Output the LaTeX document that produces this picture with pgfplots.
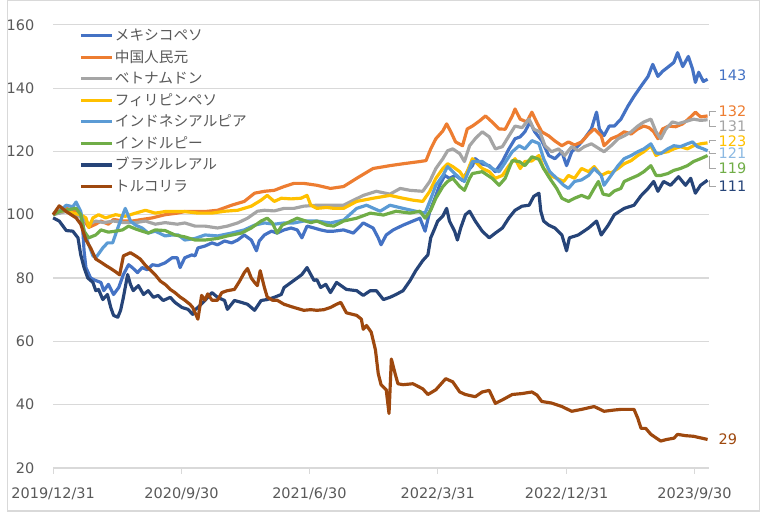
\documentclass[border=0pt]{standalone}
\usepackage{pgfplots}
\pgfplotsset{compat=1.18}
\usepackage{fontspec}
\setmainfont{DejaVu Sans}
\newfontfamily\jp{Noto Sans CJK JP}
\definecolor{cMX}{HTML}{4472C4}
\definecolor{cCN}{HTML}{ED7D31}
\definecolor{cVN}{HTML}{A5A5A5}
\definecolor{cPH}{HTML}{FFC000}
\definecolor{cID}{HTML}{5B9BD5}
\definecolor{cIN}{HTML}{70AD47}
\definecolor{cBR}{HTML}{264478}
\definecolor{cTR}{HTML}{9E480E}
\definecolor{gridc}{HTML}{D9D9D9}
\definecolor{txt}{HTML}{595959}
\definecolor{lead}{HTML}{A6A6A6}
\begin{document}
\begin{tikzpicture}
\draw[gridc, line width=0.6pt] (0.3pt,0.3pt) rectangle (379.7pt,257.7pt);
\begin{axis}[
  at={(23.5pt,22pt)}, anchor=south west,
  scale only axis, width=331pt, height=223.5pt,
  xmin=0, xmax=1401, ymin=20, ymax=160,
  clip=false,
  axis x line*=bottom, axis y line*=left,
  y axis line style={draw=none},
  x axis line style={draw=gridc, line width=0.6pt},
  ymajorgrids, grid style={gridc, line width=0.6pt},
  ytick={20,40,...,160},
  xtick={0,274,547,821,1096,1369},
  xticklabels={2019/12/31,2020/9/30,2021/6/30,2022/3/31,2022/12/31,2023/9/30},
  tick align=outside,
  ytick style={draw=none},
  xtick style={draw=gridc, line width=0.6pt},
  major tick length=3pt,
  /pgf/number format/assume math mode=true,
  ticklabel style={font=\fontsize{7.3}{8}\selectfont, text=txt},
  yticklabel style={xshift=-3pt},
  xticklabel style={yshift=-3.5pt},
  every axis plot/.append style={line width=1.6pt, line join=round, mark=none},
  legend cell align=left,
  legend style={at={(0.03,1.003)}, anchor=north west, draw=none, fill=none,
    font=\jp\fontsize{7.4}{7.4}\selectfont, text=txt,
    nodes={inner sep=0.4pt, text height=6.2pt, text depth=1.1pt},
    row sep=2.75pt},
  legend image code/.code={\draw[#1, line width=1.6pt] (0pt,0pt) -- (16pt,0pt);},
]
% Mexican peso
\addplot[cMX] coordinates {(0,100) (6,101) (13,100.5) (28,102) (42,101) (49,102) (59,100) (63,96) (66,88.6) (70,83.3) (80,80) (91,79.2) (102,78.6) (108,76) (118,78) (129,74.8) (140,77) (150,81.1) (161,84.2) (169,83.3) (180,81.7) (190,83.3) (201,82.6) (212,84.2) (224,83.9) (239,84.8) (254,86.4) (265,86.4) (271,83.3) (281,86.4) (296,87.3) (303,87) (309,89.5) (324,90.1) (339,91.1) (351,90.5) (366,91.7) (381,91.1) (394,92) (408,93.6) (423,92) (434,88.6) (440,91.7) (451,93.6) (466,94.8) (478,94.2) (493,95.2) (508,95.8) (521,95.2) (531,92.7) (542,96.4) (557,95.8) (571,95.2) (584,94.8) (599,94.8) (620,95.2) (641,94.2) (662,97.4) (683,95.8) (694,92.7) (700,90.5) (711,93.6) (726,95.2) (747,96.7) (768,98) (783,98.9) (794,94.8) (804,101.1) (815,105.2) (825,109.3) (836,112.4) (846,111.5) (859,112.4) (874,110.8) (884,113.6) (895,115.5) (901,117.7) (916,116) (931,115.5) (944,113.6) (959,116.8) (973,120.8) (986,124) (997,124.6) (1007,126.2) (1018,129.3) (1028,126.2) (1043,123.4) (1058,118.7) (1071,117.7) (1086,119.9) (1096,115.5) (1107,119.9) (1121,121.8) (1134,124) (1149,127.1) (1160,132.4) (1166,127.1) (1176,125) (1187,128) (1198,128) (1212,130.2) (1227,134.3) (1240,137.4) (1255,140.6) (1270,143.7) (1280,147.5) (1291,143.7) (1301,145.3) (1314,146.8) (1325,148.1) (1333,151.2) (1344,146.8) (1356,150) (1365,146) (1371,141.8) (1378,145) (1388,142.1) (1397,142.8)};
\addlegendentry{メキシコペソ}
% Chinese yuan
\addplot[cCN] coordinates {(0,100) (13,101) (28,102) (49,101) (63,99) (76,96) (91,97) (102,98) (118,97) (129,98.5) (150,98) (169,98) (190,98.5) (212,99) (239,100) (265,100.5) (281,101) (303,101) (324,101) (351,101.4) (381,103) (408,104.2) (430,106.8) (451,107.4) (472,107.7) (493,108.9) (514,109.9) (535,109.9) (563,109.3) (592,108.3) (620,108.9) (648,111.5) (683,114.6) (719,115.5) (747,116.1) (783,116.8) (796,117.1) (806,120.8) (817,124) (832,126.5) (840,128.7) (849,126.2) (859,123) (874,121.8) (884,127.1) (895,128) (910,129.6) (923,131.2) (937,129.3) (952,127.1) (965,127) (980,131.2) (986,133.4) (997,130.2) (1011,129.3) (1022,132.4) (1033,129) (1043,126.2) (1058,124.9) (1071,123.3) (1086,121.8) (1100,123) (1113,122) (1128,123) (1143,125.5) (1155,127.1) (1170,124.9) (1176,121.8) (1191,124) (1206,124.9) (1219,126.2) (1234,125.5) (1248,127.1) (1261,128) (1272,127.5) (1282,126.2) (1291,124) (1301,127.1) (1314,128) (1329,127.8) (1344,128.7) (1356,130.2) (1371,132.4) (1382,130.9) (1397,131.2)};
\addlegendentry{中国人民元}
% Vietnamese dong
\addplot[cVN] coordinates {(0,100) (13,100.5) (28,101) (49,100) (63,99) (76,97) (91,98) (108,97.5) (129,98) (150,97.5) (176,97.5) (197,98) (218,97) (239,97.5) (265,97) (281,97.4) (303,96.4) (324,96.4) (351,95.8) (372,96.4) (394,97.4) (415,98.9) (436,101.1) (451,101.4) (472,101.2) (493,102) (514,102) (535,102.7) (563,103) (592,103) (620,103) (662,106.1) (690,107.4) (719,106.5) (741,108.3) (762,107.7) (789,107.4) (804,110.5) (817,114.6) (832,117.7) (842,120.2) (853,120.8) (868,119.3) (878,116.8) (889,121.8) (901,124) (916,126.2) (931,124.6) (944,120.8) (959,121.5) (973,124.9) (986,128) (1001,127.5) (1016,130.2) (1026,127) (1039,126.2) (1050,121.8) (1064,119.9) (1079,120.8) (1092,118.7) (1107,121.5) (1121,120.2) (1134,121.5) (1149,122.4) (1164,121) (1176,119.9) (1191,121.8) (1206,124) (1219,124.9) (1234,126.2) (1248,128) (1261,129.3) (1276,130.2) (1287,126.2) (1297,124) (1308,127.1) (1322,129.3) (1335,128.8) (1354,129.6) (1367,130.2) (1382,129.8) (1397,130)};
\addlegendentry{ベトナムドン}
% Philippine peso
\addplot[cPH] coordinates {(0,100) (13,101) (28,101.5) (42,100.5) (59,100) (70,99) (76,96) (85,99) (97,100) (112,99) (133,100) (154,99.5) (176,100.5) (197,101.4) (218,100.5) (239,101) (260,101) (281,101) (309,100.5) (339,100.5) (366,101.1) (394,101.4) (423,102.7) (444,104.6) (457,106.1) (472,104.2) (487,105.2) (508,105) (529,105.2) (542,106.1) (550,103) (563,102) (584,102.3) (599,102) (620,102) (648,104.2) (683,105.2) (719,106.1) (747,105.2) (768,104.6) (789,104.2) (804,107.4) (817,111.5) (832,114.6) (842,116.1) (853,115.2) (868,113.6) (878,111.5) (889,115.5) (895,117.7) (916,114.6) (931,113.6) (944,111.5) (959,112.4) (973,115.5) (986,117.7) (997,114.6) (1007,116.8) (1022,117) (1037,118.7) (1047,114.6) (1060,112.4) (1075,111.5) (1090,110.5) (1100,112.4) (1113,111.5) (1128,114.6) (1143,113.6) (1155,115.2) (1170,112.4) (1185,113.5) (1191,113.2) (1206,114.6) (1219,116.1) (1234,117.1) (1248,118.7) (1261,119.9) (1276,121.8) (1287,118.7) (1297,119.5) (1312,119.9) (1325,120.8) (1339,121.5) (1354,120.8) (1367,121.8) (1382,122.4) (1397,122.7)};
\addlegendentry{フィリピンペソ}
% Indonesian rupiah
\addplot[cID] coordinates {(0,100) (13,101) (28,103) (42,102.5) (49,104) (59,101) (66,95) (76,90.5) (85,87) (91,86.4) (106,89.5) (116,91.1) (127,91.1) (138,95.8) (154,102) (165,98) (176,96.7) (190,95.8) (203,94.2) (218,94.8) (239,93.3) (254,93.6) (267,93.6) (281,92) (303,92.5) (324,93.6) (351,93.3) (381,94.2) (408,95.2) (430,96.7) (451,97.4) (472,97) (493,97.4) (514,97.4) (535,98) (563,98) (592,97.4) (620,98.3) (648,102) (669,103) (698,101.1) (719,103) (747,102) (774,101.1) (794,100.5) (804,104.2) (817,109.3) (832,112.4) (842,115.2) (853,113.6) (868,111.5) (878,110.5) (889,114.6) (895,116.8) (916,116.8) (937,114.6) (952,113.6) (965,116.5) (980,119.9) (995,121.8) (1007,120.8) (1022,123.4) (1037,122.5) (1047,117.7) (1060,113.6) (1075,111.5) (1090,109.3) (1100,108.3) (1113,110.5) (1128,111) (1143,112.4) (1155,114.6) (1170,112.4) (1176,109.3) (1191,112.4) (1206,115.5) (1219,117.7) (1234,118.7) (1248,119.9) (1261,120.8) (1276,122.4) (1287,119.5) (1297,119.3) (1312,120.8) (1325,121.8) (1339,121.5) (1354,122.4) (1365,123) (1375,121.5) (1388,120.8) (1397,120.2)};
\addlegendentry{インドネシアルピア}
% Indian rupee
\addplot[cIN] coordinates {(0,100) (13,101) (28,101.5) (49,102) (59,100) (66,94.8) (76,92.7) (91,93.6) (102,95.2) (118,94.5) (133,94.8) (148,95.2) (161,96.4) (176,95.5) (190,94.8) (203,94.2) (218,95.2) (239,95) (260,93.6) (281,93) (303,92) (324,92) (351,92.5) (372,93.3) (402,94.2) (423,95.8) (444,98) (457,98.9) (468,97.4) (478,94.2) (489,96.7) (508,98) (521,98.9) (535,98.2) (550,97.5) (563,98) (584,96.7) (599,96.4) (620,98) (648,98.9) (677,100.5) (705,99.9) (732,101.1) (762,100.5) (783,101.1) (794,98.9) (806,101.4) (817,105.2) (832,108.9) (842,110.5) (853,111.5) (868,108.9) (878,107.7) (889,111.5) (895,113) (916,113.6) (937,111.5) (952,109.3) (965,111.5) (980,117.1) (995,116.8) (1007,115.5) (1022,118.3) (1037,117.5) (1047,114.6) (1060,111.5) (1075,108.3) (1086,105.2) (1100,104.2) (1113,105.2) (1128,106.1) (1143,105.2) (1155,108.3) (1164,110.5) (1174,106.5) (1187,106.1) (1198,107.5) (1212,108.3) (1219,110.5) (1234,111.5) (1248,112.4) (1261,113.6) (1276,115.5) (1287,112.4) (1297,112.4) (1312,113) (1325,114) (1339,114.6) (1354,115.5) (1367,116.8) (1382,117.7) (1397,118.7)};
\addlegendentry{インドルピー}
% Brazilian real
\addplot[cBR] coordinates {(0,99) (13,98) (28,95) (42,94.8) (53,92.7) (59,87.3) (66,83.3) (74,80) (85,78.6) (91,76) (97,76.4) (106,73.2) (116,74.8) (123,70.7) (129,68.2) (138,67.6) (144,69.8) (150,73.9) (159,81.1) (165,78) (171,76) (182,77.6) (193,74.8) (203,76) (214,73.9) (224,74.5) (235,72.9) (250,73.9) (260,72.3) (275,70.7) (288,70.1) (298,68.5) (303,70) (309,70.7) (324,72.9) (339,75.4) (351,73.9) (366,72.9) (372,70.1) (387,72.9) (402,72.3) (415,71.7) (430,69.8) (444,72.9) (457,73.2) (472,73.9) (487,74.8) (493,77) (508,78.6) (521,80) (531,81.1) (542,83.3) (550,81.1) (557,79.2) (563,79.5) (571,77) (582,78) (592,75.4) (605,78.6) (626,76.4) (648,76) (662,74.5) (677,76) (690,76) (705,73.2) (719,73.9) (732,74.8) (747,76) (762,79.2) (774,82.3) (789,85.5) (800,87.3) (806,92.7) (815,95.8) (821,98) (832,99.6) (840,102) (846,98) (857,94.8) (863,92) (870,95.8) (880,100) (889,101.1) (901,98) (916,94.8) (931,92.7) (944,94.2) (959,95.8) (973,99) (986,101.4) (1001,102.7) (1016,103) (1026,105.8) (1037,106.8) (1041,101.1) (1047,98) (1058,96.7) (1071,95.8) (1086,93.6) (1096,88.6) (1102,92.7) (1121,93.6) (1143,95.8) (1160,98) (1170,93.6) (1185,96.7) (1198,100) (1219,102) (1240,103) (1255,106) (1270,108.3) (1282,110.5) (1291,107.4) (1303,110.5) (1318,109.3) (1335,112) (1350,109.3) (1361,111.5) (1371,106.8) (1382,109.3) (1397,110.9)};
\addlegendentry{ブラジルレアル}
% Turkish lira
\addplot[cTR] coordinates {(0,100) (13,102.8) (28,101) (49,99) (59,97) (70,92) (80,89.5) (91,86) (102,85) (112,84) (123,83) (133,82) (142,81) (150,87) (165,88) (176,87) (186,86) (197,84) (207,82.6) (218,81) (229,79) (239,78) (250,76.4) (260,75.4) (271,74) (281,73) (292,71.7) (298,70.7) (309,67) (317,74.5) (324,73) (330,75) (339,73) (351,73) (360,75.4) (372,76) (387,76.4) (398,79) (408,81.7) (415,83) (423,80) (430,78.6) (436,77.6) (442,82.3) (451,77) (457,74) (468,73) (478,73) (493,71.7) (514,70.7) (535,69.8) (550,70) (563,69.8) (578,70) (592,70.7) (605,71.7) (614,72.3) (626,69) (648,68.2) (658,67) (662,63.8) (669,65) (679,62.9) (688,57.3) (694,49.8) (700,46.3) (711,44.7) (717,37.2) (722,54.4) (730,49.8) (736,46.6) (747,46.3) (768,46.6) (789,45) (800,43.2) (817,44.7) (838,48.2) (853,47.2) (868,44) (880,43.2) (901,42.5) (916,44) (931,44.5) (944,40.4) (959,41.5) (980,43.2) (1001,43.5) (1022,44) (1033,43) (1043,41) (1064,40.5) (1086,39.4) (1107,37.9) (1128,38.5) (1155,39.4) (1176,37.9) (1198,38.3) (1212,38.5) (1240,38.5) (1248,35.7) (1255,32.5) (1265,32.5) (1276,30.6) (1297,28.5) (1310,29) (1325,29.4) (1333,30.6) (1350,30.2) (1367,30) (1382,29.5) (1397,29)};
\addlegendentry{トルコリラ}
% leader lines
\draw[lead, line width=0.5pt] (axis cs:1401,131.2) -- (axis cs:1401,132.7) -- (axis cs:1414,132.7);
\draw[lead, line width=0.5pt] (axis cs:1401,130) -- (axis cs:1401,128) -- (axis cs:1414,128);
\draw[lead, line width=0.5pt] (axis cs:1401,122.7) -- (axis cs:1401,123.3) -- (axis cs:1414,123.3);
\draw[lead, line width=0.5pt] (axis cs:1401,120.2) -- (axis cs:1401,119.3) -- (axis cs:1414,119.3);
\draw[lead, line width=0.5pt] (axis cs:1401,118.7) -- (axis cs:1401,114.6) -- (axis cs:1414,114.6);
\draw[lead, line width=0.5pt] (axis cs:1401,110.9) -- (axis cs:1401,108.9) -- (axis cs:1414,108.9);
% end labels
\begin{scope}[every node/.style={anchor=west, inner sep=0pt, font=\fontsize{7.3}{8}\selectfont}]
\node[text=cMX] at (axis cs:1420,144.0) {143};
\node[text=cCN] at (axis cs:1420,132.7) {132};
\node[text=cVN] at (axis cs:1420,128.0) {131};
\node[text=cPH] at (axis cs:1420,123.3) {123};
\node[text=cID!70!white] at (axis cs:1420,119.3) {121};
\node[text=cIN] at (axis cs:1420,114.6) {119};
\node[text=cBR] at (axis cs:1420,108.9) {111};
\node[text=cTR] at (axis cs:1420,29.1) {29};
\end{scope}
\end{axis}
\end{tikzpicture}
\end{document}
